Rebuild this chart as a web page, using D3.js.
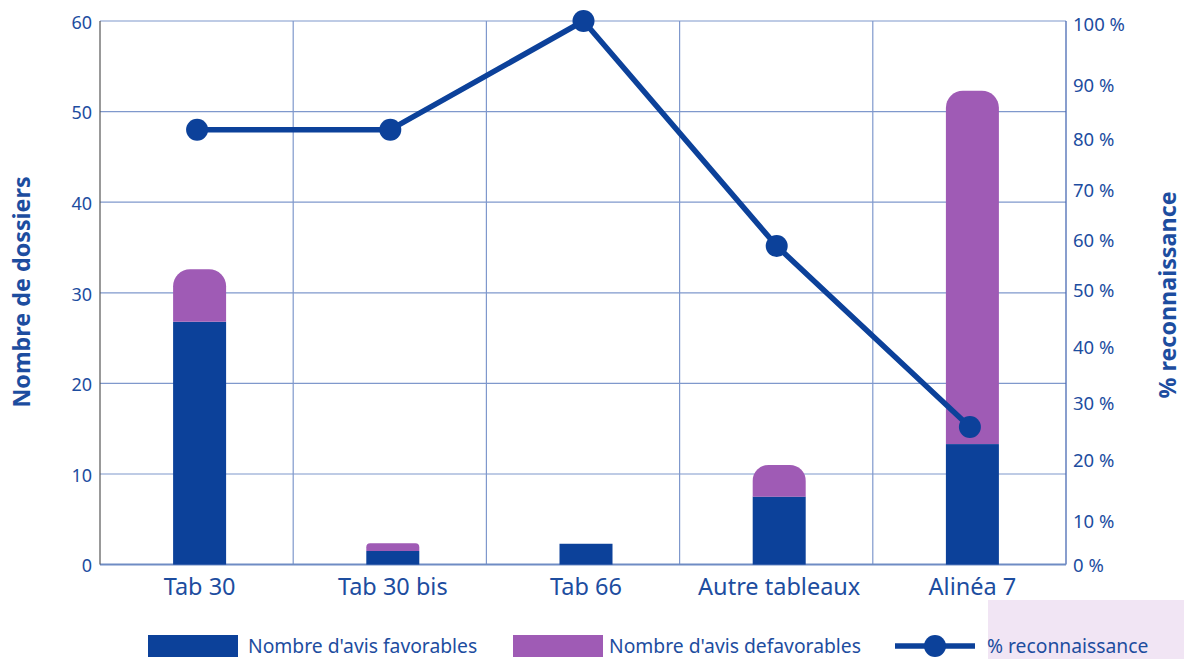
<!DOCTYPE html>
<html><head><meta charset="utf-8">
<script src="https://cdn.jsdelivr.net/npm/d3@7"></script>
<style>body{margin:0;background:#fff}svg{display:block}</style>
</head><body>
<svg id="c" width="1184" height="659"></svg>
<script>
const categories = ["Tab 30","Tab 30 bis","Tab 66","Autre tableaux","Alinéa 7"];
const favorables = [26.8, 1.5, 2.3, 7.5, 13.3];
const defavorables = [5.8, 0.85, 0, 3.5, 39.0];
const reconnaissance = [80, 80, 100, 58.6, 25.3];
const leftTicks = [0,10,20,30,40,50,60];
const rightTickLabels = ["0 %","10 %","20 %","30 %","40 %","50 %","60 %","70 %","80 %","90 %","100 %"];
const rightTickAt = [0, 8, 19.3, 29.7, 40.1, 50.6, 59.8, 69, 78.2, 88.2, 99.4];
const legendLabels = ["Nombre d'avis favorables","Nombre d'avis defavorables","% reconnaissance"];

const blue = "#0c419a", purple = "#9f5bb5", txt = "#1d4d9f", grid = "#7f98cc";
const font = "'Noto Sans', 'Open Sans', sans-serif";
const svg = d3.select("#c");
const L = 100, R = 1066, T = 21, B = 564.6;
const x = d3.scaleBand().domain(categories).range([L, R]);
const yL = d3.scaleLinear().domain([0, 60]).range([B, T]);
const yR = d3.scaleLinear().domain([0, 100]).range([B, T]);
const cx = c => x(c) + x.bandwidth() / 2 + 3;

// decorative lavender patch
svg.append("rect").attr("x", 988).attr("y", 600).attr("width", 196).attr("height", 59).attr("fill", "#f1e5f4");

// grid
svg.append("g").selectAll("line").data(leftTicks.filter(d => d > 0)).join("line")
  .attr("x1", L).attr("x2", R).attr("y1", d => yL(d)).attr("y2", d => yL(d))
  .attr("stroke", grid).attr("stroke-width", 1.2);
svg.append("g").selectAll("line").data(categories.slice(1)).join("line")
  .attr("x1", d => x(d)).attr("x2", d => x(d)).attr("y1", T).attr("y2", B)
  .attr("stroke", grid).attr("stroke-width", 1.2);
svg.append("line").attr("x1", R).attr("x2", R).attr("y1", T).attr("y2", B).attr("stroke", "#4a6ab3").attr("stroke-width", 1.3);
svg.append("line").attr("x1", L).attr("x2", R).attr("y1", B).attr("y2", B).attr("stroke", "#6f8cc4").attr("stroke-width", 2);
svg.append("line").attr("x1", L).attr("x2", L).attr("y1", T).attr("y2", B).attr("stroke", "#555").attr("stroke-width", 1.2);

// bars
const bw = 53;
const g = svg.append("g");
categories.forEach((c, i) => {
  const x0 = cx(c) - bw / 2;
  const yf = yL(favorables[i]);
  g.append("rect").attr("x", x0).attr("y", yf).attr("width", bw).attr("height", B - yf).attr("fill", blue);
  if (defavorables[i] > 0) {
    const yt = yL(favorables[i] + defavorables[i]);
    const h = yf - yt;
    const r = Math.min(17, h / 2);
    const p = d3.path();
    p.moveTo(x0, yf);
    p.lineTo(x0, yt + r);
    p.arcTo(x0, yt, x0 + r, yt, r);
    p.lineTo(x0 + bw - r, yt);
    p.arcTo(x0 + bw, yt, x0 + bw, yt + r, r);
    p.lineTo(x0 + bw, yf);
    p.closePath();
    g.append("path").attr("d", p.toString()).attr("fill", purple);
  }
});

// line
const lx = c => x(c) + x.bandwidth() / 2 + 0.5;
const line = d3.line().x((d, i) => lx(categories[i])).y(d => yR(d));
svg.append("path").attr("d", line(reconnaissance)).attr("fill", "none").attr("stroke", blue).attr("stroke-width", 5.5).attr("stroke-linejoin", "round");
svg.append("g").selectAll("circle").data(reconnaissance).join("circle")
  .attr("cx", (d, i) => lx(categories[i])).attr("cy", d => yR(d)).attr("r", 11).attr("fill", blue);

// axes labels
const axL = d3.axisLeft(yL).tickValues(leftTicks).tickSize(0).tickPadding(8);
const gl = svg.append("g").attr("transform", `translate(${L},0)`).call(axL);
gl.select(".domain").remove();
gl.selectAll("text").attr("font-family", font).attr("font-size", 18).attr("fill", txt).attr("dy", "0.4em");

const axR = d3.axisRight(yR).tickValues(rightTickAt).tickFormat((d, i) => rightTickLabels[i]).tickSize(0).tickPadding(7);
const gr = svg.append("g").attr("transform", `translate(${R},0)`).call(axR);
gr.select(".domain").remove();
gr.selectAll("text").attr("font-family", font).attr("font-size", 18.5).attr("fill", txt).attr("dy", "0.35em");

const axB = d3.axisBottom(x).tickSize(0).tickPadding(14);
const gb = svg.append("g").attr("transform", `translate(3,${B})`).call(axB);
gb.select(".domain").remove();
gb.selectAll("text").attr("font-family", font).attr("font-size", 23.5).attr("fill", txt);

// titles
svg.append("text").attr("transform", "translate(30,292) rotate(-90)").attr("text-anchor", "middle")
  .attr("font-family", font).attr("font-weight", "bold").attr("font-size", 23.3).attr("fill", txt).text("Nombre de dossiers");
svg.append("text").attr("transform", "translate(1176,295) rotate(-90)").attr("text-anchor", "middle")
  .attr("font-family", font).attr("font-weight", "bold").attr("font-size", 23.3).attr("fill", txt).text("% reconnaissance");

// legend
const lg = svg.append("g");
lg.append("rect").attr("x", 148).attr("y", 635).attr("width", 90).attr("height", 22).attr("fill", blue);
lg.append("text").attr("x", 248).attr("y", 653).text(legendLabels[0]);
lg.append("rect").attr("x", 513).attr("y", 635).attr("width", 90).attr("height", 22).attr("fill", purple);
lg.append("text").attr("x", 609).attr("y", 653).text(legendLabels[1]);
lg.append("line").attr("x1", 895).attr("x2", 975).attr("y1", 646).attr("y2", 646).attr("stroke", blue).attr("stroke-width", 5.5);
lg.append("circle").attr("cx", 935).attr("cy", 646).attr("r", 11).attr("fill", blue);
lg.append("text").attr("x", 987).attr("y", 653).text(legendLabels[2]);
lg.selectAll("text").attr("font-family", font).attr("font-size", 19.3).attr("fill", txt);
</script>
</body></html>
